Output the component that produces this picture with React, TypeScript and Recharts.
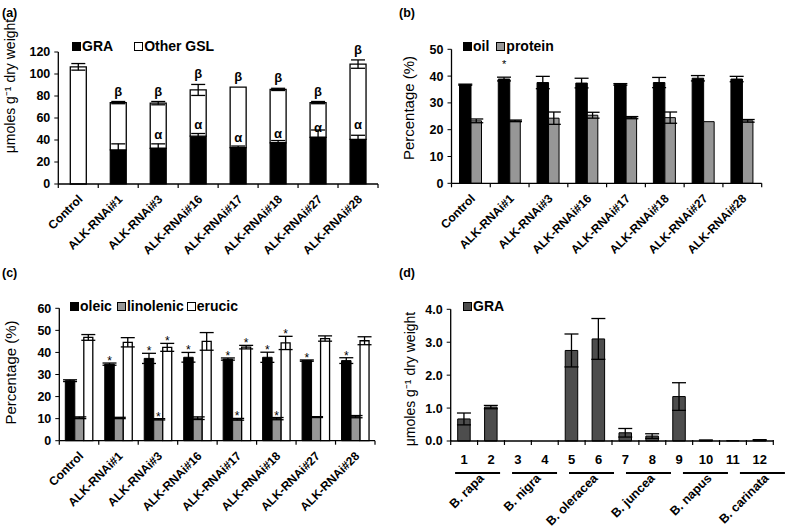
import React from 'react';
import { BarChart, Bar, XAxis, YAxis, ErrorBar, LabelList, Legend, Text } from 'recharts';

const FONT = '"Liberation Sans", Arial, Helvetica, sans-serif';

// lines shared by panels a-c
const lines = ['Control', 'ALK-RNAi#1', 'ALK-RNAi#3', 'ALK-RNAi#16', 'ALK-RNAi#17', 'ALK-RNAi#18', 'ALK-RNAi#27', 'ALK-RNAi#28'];

// (a) glucosinolates, umol/g
const graA = [0, 31, 32.5, 43.5, 33, 37.5, 42.5, 40.5];
const graErrA = [0, 5.5, 4, 2.4, 1.5, 2, 6.6, 3.8];
const otherA = [106.5, 43, 41, 42, 55, 48.5, 31.5, 68.5];
const totalErrA = [3, 1, 1.5, 5, 0, 1, 1, 3.8];
const alphaA = ['', 'α', 'α', 'α', 'α', 'α', 'α', 'α'];
const betaA = ['', 'β', 'β', 'β', 'β', 'β', 'β', 'β'];
const ticksA = [0, 20, 40, 60, 80, 100, 120];

// (b) oil / protein, %
const oil = [36.8, 38.9, 37.6, 37.4, 36.9, 37.6, 39.2, 38.9];
const oilErr = [0.2, 0.7, 2.3, 1.8, 0.3, 1.9, 1, 1];
const protein = [23.3, 23.3, 24.3, 25.4, 24.5, 24.5, 23, 23.3];
const proteinErr = [0.7, 0.3, 2.3, 1.1, 0.4, 2.1, 0, 0.5];
const oilStar = ['', '*', '', '', '', '', '', ''];
const ticksB = [0, 10, 20, 30, 40, 50];

// (c) fatty acids, %
const oleic = [27.2, 34.7, 37.3, 37.8, 37, 37.8, 36.3, 36.3];
const oleicErr = [0.4, 0.5, 2.3, 2.2, 0.5, 2.3, 0.3, 1.3];
const linolenic = [10.4, 10.3, 9.7, 10.2, 9.7, 10, 10.7, 10.9];
const linolenicErr = [0.4, 0.3, 0.3, 0.6, 0.4, 0.5, 0.2, 0.5];
const erucic = [46.8, 44.6, 42.3, 45, 42.4, 44.3, 46.3, 45.3];
const erucicErr = [1.3, 2.1, 1.8, 4, 0.8, 3, 1.2, 1.8];
const oleicStar = ['', '*', '*', '*', '*', '*', '*', '*'];
const linolenicStar = ['', '', '*', '', '*', '*', '', ''];
const erucicStar = ['', '', '*', '', '*', '*', '', ''];
const ticksC = [0, 10, 20, 30, 40, 50, 60];

// (d) GRA in Brassica species
const samples = ['1', '2', '3', '4', '5', '6', '7', '8', '9', '10', '11', '12'];
const graD = [0.67, 1.03, 0, 0, 2.75, 3.1, 0.25, 0.15, 1.35, 0.02, 0.01, 0.03];
const graErrD = [0.18, 0.05, 0, 0, 0.5, 0.62, 0.13, 0.07, 0.42, 0.01, 0, 0.01];
const species = ['B. rapa', 'B. nigra', 'B. oleracea', 'B. juncea', 'B. napus', 'B. carinata'];
const ticksD = [0, 1, 2, 3, 4];

const dataA = lines.map((name, i) => ({ name, gra: graA[i], graErr: graErrA[i], other: otherA[i], totalErr: totalErrA[i] }));
const dataB = lines.map((name, i) => ({ name, oil: oil[i], oilErr: oilErr[i], protein: protein[i], proteinErr: proteinErr[i] }));
const dataC = lines.map((name, i) => ({
  name, oleic: oleic[i], oleicErr: oleicErr[i], linolenic: linolenic[i], linolenicErr: linolenicErr[i], erucic: erucic[i], erucicErr: erucicErr[i],
}));
const dataD = samples.map((name, i) => ({ name, gra: graD[i], graErr: graErrD[i] }));

const GRAY = '#979797';
const axisLine = { stroke: '#000', strokeWidth: 1.3 };
const yTick = { fontSize: 12.5, fontWeight: 'bold', fill: '#000', fontFamily: FONT };

// category tick: rotated label + boundary tick marks like excel
const catTick = (band: number, count: number) => (props: any) => {
  const x = Number(props.x);
  const y = Number(props.y);
  const { payload, index } = props;
  return (
    <g>
      <line x1={x - band / 2} x2={x - band / 2} y1={y} y2={y + 4} stroke="#000" strokeWidth={1.2} />
      {index === count - 1 && <line x1={x + band / 2} x2={x + band / 2} y1={y} y2={y + 4} stroke="#000" strokeWidth={1.2} />}
      <Text x={x + 5} y={y + 16} angle={-45} textAnchor="end" verticalAnchor="end" fontSize={12} fontWeight="bold" fontFamily={FONT} fill="#000">
        {payload.value}
      </Text>
    </g>
  );
};

const sampleTick = (band: number, count: number) => (props: any) => {
  const x = Number(props.x);
  const y = Number(props.y);
  const { payload, index } = props;
  const g = Math.floor(index / 2);
  let group = null;
  if (index % 2 === 1) {
    const cx = x - band / 2 + g * 3.2;
    group = (
      <g>
        <line x1={cx - 22.5} x2={cx + 22.5} y1={y + 32} y2={y + 32} stroke="#000" strokeWidth={2} />
        <Text x={cx + 7} y={y + 38} angle={-45} textAnchor="end" verticalAnchor="end" fontSize={12.5} fontWeight="bold" fontFamily={FONT} fill="#000">
          {species[g]}
        </Text>
      </g>
    );
  }
  return (
    <g>
      <line x1={x - band / 2} x2={x - band / 2} y1={y - 1} y2={y + 4} stroke="#000" strokeWidth={1.2} />
      {index === count - 1 && <line x1={x + band / 2} x2={x + band / 2} y1={y - 1} y2={y + 4} stroke="#000" strokeWidth={1.2} />}
      <text x={x} y={y + 23} textAnchor="middle" fontSize={13} fontWeight="bold" fontFamily={FONT} fill="#000">
        {payload.value}
      </text>
      {group}
    </g>
  );
};

const yTitle = (text: string, cx: number, cy: number, size: number) => ({
  content: () => (
    <text x={cx} y={cy} transform={`rotate(-90 ${cx} ${cy})`} textAnchor="middle" dominantBaseline="central" fontSize={size} fontFamily={FONT} fill="#000">
      {text}
    </text>
  ),
});

// marks (α, β, *) sitting above the error bar
const marks = (m: string[], errs: number[], k: number, gap: number, size: number, bold: boolean) => (props: any) => {
  const { x, y, width, index } = props;
  if (!m[index]) return null;
  const top = Number(y) - errs[index] * k - gap;
  return (
    <text x={Number(x) + Number(width) / 2} y={top} textAnchor="middle" fontSize={size} fontWeight={bold ? 'bold' : 'normal'} fontFamily={FONT} fill="#000">
      {m[index]}
    </text>
  );
};

type Item = { label: string; fill: string; gap: number };
const legendRow = (items: Item[]) => () => (
  <div style={{ display: 'flex', alignItems: 'center', fontFamily: FONT, fontSize: 14, fontWeight: 'bold', color: '#000', whiteSpace: 'nowrap', lineHeight: '16px' }}>
    {items.map((it) => (
      <span key={it.label} style={{ display: 'flex', alignItems: 'center', marginRight: it.gap }}>
        <span style={{ display: 'inline-block', width: 7, height: 7, background: it.fill, border: '1px solid #000', marginRight: 1 }} />
        {it.label}
      </span>
    ))}
  </div>
);

const panelLabel = (t: string, left: number, top: number) => (
  <div style={{ position: 'absolute', left, top, fontFamily: FONT, fontSize: 12.5, fontWeight: 'bold' }}>{t}</div>
);

const errProps = { width: 7, stroke: '#000', strokeWidth: 1.3, direction: 'y' as const };

export default function App() {
  return (
    <div style={{ position: 'absolute', left: 0, top: 0, width: 787, height: 528, background: '#fff', fontFamily: FONT }}>
      {panelLabel('(a)', 2, 6)}
      {panelLabel('(b)', 399, 6)}
      {panelLabel('(c)', 2, 266)}
      {panelLabel('(d)', 399, 266)}

      {/* (a) */}
      <div style={{ position: 'absolute', left: 0, top: 0 }}>
        <BarChart width={393} height={260} data={dataA} margin={{ top: 52, right: 15, bottom: 0, left: 0 }}>
          <XAxis dataKey="name" interval={0} height={76} tickSize={0} tickMargin={0} axisLine={axisLine} tickLine={false} tick={catTick(40, lines.length)} />
          <YAxis domain={[0, 120]} ticks={ticksA} interval={0} width={58.3} tick={yTick} tickSize={4} tickMargin={4} axisLine={axisLine} tickLine={{ stroke: '#000' }}
            label={yTitle('μmoles g⁻¹ dry weight', 10, 86, 14)} />
          <Legend layout="horizontal" verticalAlign="middle" align="center" wrapperStyle={{ top: 38, left: 72, width: 'auto' }}
            content={legendRow([{ label: 'GRA', fill: '#000', gap: 21 }, { label: 'Other GSL', fill: '#fff', gap: 0 }])} />
          <Bar dataKey="gra" stackId="s" barSize={16} fill="#000" stroke="#000" strokeWidth={1.2} isAnimationActive={false}>
            <ErrorBar dataKey="graErr" {...errProps} />
            <LabelList content={marks(alphaA, graErrA, 1.1, 3, 13, true)} />
          </Bar>
          <Bar dataKey="other" stackId="s" barSize={16} fill="#fff" stroke="#000" strokeWidth={1.3} isAnimationActive={false}>
            <ErrorBar dataKey="totalErr" {...errProps} />
            <LabelList content={marks(betaA, totalErrA, 1.1, 6, 13, true)} />
          </Bar>
        </BarChart>
      </div>

      {/* (b) */}
      <div style={{ position: 'absolute', left: 393, top: 0 }}>
        <BarChart width={394} height={260} data={dataB} margin={{ top: 49.3, right: 25.3, bottom: 0, left: 0 }} barGap={0}>
          <XAxis dataKey="name" interval={0} height={76.7} tickSize={0} tickMargin={0} axisLine={axisLine} tickLine={false} tick={catTick(310.2 / 8, lines.length)} />
          <YAxis domain={[0, 50]} ticks={ticksB} interval={0} width={58.5} tick={yTick} tickSize={4} tickMargin={4} axisLine={axisLine} tickLine={{ stroke: '#000' }}
            label={yTitle('Percentage (%)', 15, 108, 15)} />
          <Legend layout="horizontal" verticalAlign="middle" align="center" wrapperStyle={{ top: 38, left: 70, width: 'auto' }}
            content={legendRow([{ label: 'oil', fill: '#000', gap: 7 }, { label: 'protein', fill: GRAY, gap: 0 }])} />
          <Bar dataKey="oil" barSize={11.5} fill="#000" stroke="#000" strokeWidth={1} isAnimationActive={false}>
            <ErrorBar dataKey="oilErr" {...errProps} />
            <LabelList content={marks(oilStar, oilErr, 2.68, 9, 11, false)} />
          </Bar>
          <Bar dataKey="protein" barSize={10.5} fill={GRAY} stroke="#000" strokeWidth={1} isAnimationActive={false}>
            <ErrorBar dataKey="proteinErr" {...errProps} />
          </Bar>
        </BarChart>
      </div>

      {/* (c) */}
      <div style={{ position: 'absolute', left: 0, top: 260 }}>
        <BarChart width={393} height={268} data={dataC} margin={{ top: 48.3, right: 18, bottom: 0, left: 0 }} barGap={0}>
          <XAxis dataKey="name" interval={0} height={87.3} tickSize={0} tickMargin={0} axisLine={axisLine} tickLine={false} tick={catTick(315.7 / 8, lines.length)} />
          <YAxis domain={[0, 60]} ticks={ticksC} interval={0} width={59.3} tick={yTick} tickSize={4} tickMargin={4} axisLine={axisLine} tickLine={{ stroke: '#000' }}
            label={yTitle('Percentage (%)', 10, 112.5, 15)} />
          <Legend layout="horizontal" verticalAlign="middle" align="center" wrapperStyle={{ top: 38, left: 70, width: 'auto' }}
            content={legendRow([
              { label: 'oleic', fill: '#000', gap: 5 },
              { label: 'linolenic', fill: GRAY, gap: 3 },
              { label: 'erucic', fill: '#fff', gap: 0 },
            ])} />
          <Bar dataKey="oleic" barSize={9.5} fill="#000" stroke="#000" strokeWidth={1} isAnimationActive={false}>
            <ErrorBar dataKey="oleicErr" {...errProps} />
            <LabelList content={marks(oleicStar, oleicErr, 2.207, -2, 12, false)} />
          </Bar>
          <Bar dataKey="linolenic" barSize={9} fill={GRAY} stroke="#000" strokeWidth={1} isAnimationActive={false}>
            <ErrorBar dataKey="linolenicErr" {...errProps} />
            <LabelList content={marks(linolenicStar, linolenicErr, 2.207, -2, 12, false)} />
          </Bar>
          <Bar dataKey="erucic" barSize={9} fill="#fff" stroke="#000" strokeWidth={1.3} isAnimationActive={false}>
            <ErrorBar dataKey="erucicErr" {...errProps} />
            <LabelList content={marks(erucicStar, erucicErr, 2.207, -2, 12, false)} />
          </Bar>
        </BarChart>
      </div>

      {/* (d) */}
      <div style={{ position: 'absolute', left: 393, top: 260 }}>
        <BarChart width={394} height={268} data={dataD} margin={{ top: 49.3, right: 13.7, bottom: 0, left: 0 }}>
          <XAxis dataKey="name" interval={0} height={87} tickSize={0} tickMargin={0} axisLine={axisLine} tickLine={false} tick={sampleTick(322.6 / 12, samples.length)} />
          <YAxis domain={[0, 4]} ticks={ticksD} interval={0} width={57.7} tick={yTick} tickSize={4} tickMargin={4} axisLine={axisLine} tickLine={{ stroke: '#000' }}
            tickFormatter={(v: number) => v.toFixed(1)} label={yTitle('μmoles g⁻¹ dry weight', 17, 119, 14)} />
          <Legend layout="horizontal" verticalAlign="middle" align="center" wrapperStyle={{ top: 38, left: 70, width: 'auto' }}
            content={legendRow([{ label: 'GRA', fill: '#4d4d4d', gap: 0 }])} />
          <Bar dataKey="gra" barSize={12.5} fill="#4d4d4d" stroke="#000" strokeWidth={1} isAnimationActive={false}>
            <ErrorBar dataKey="graErr" {...errProps} />
          </Bar>
        </BarChart>
      </div>
    </div>
  );
}
